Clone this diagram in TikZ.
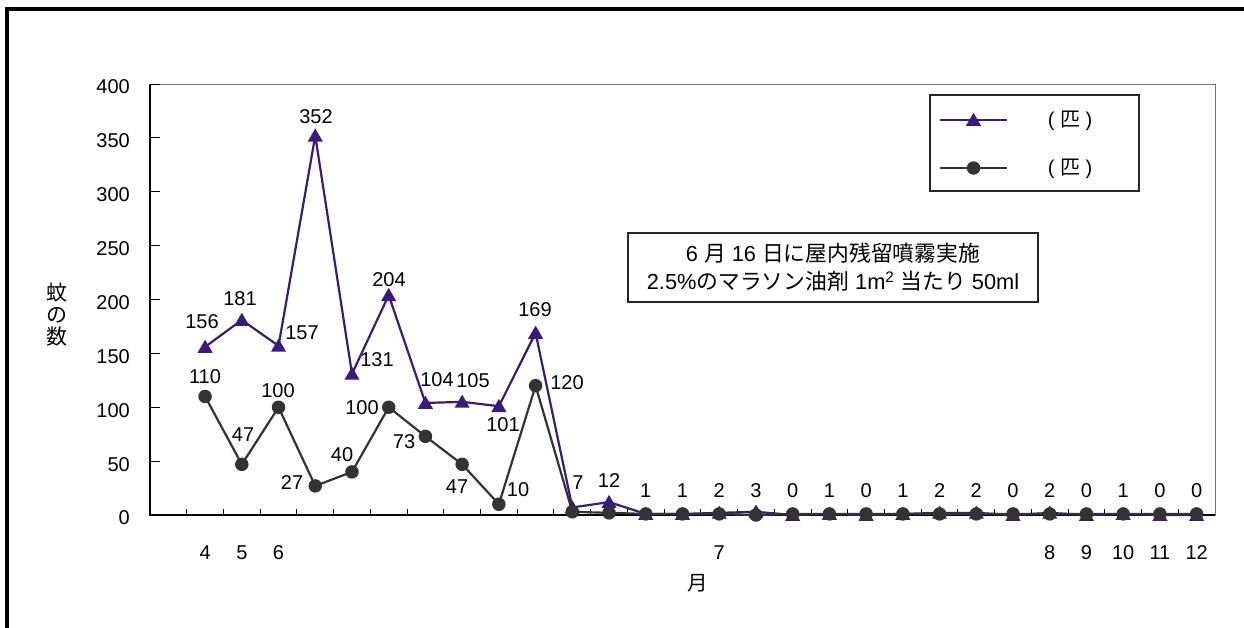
\documentclass[tikz,border=0pt]{standalone}
\usepackage{fontspec}
\setmainfont{Liberation Sans}
\newfontfamily\jp{Noto Sans CJK JP}
\usetikzlibrary{shapes.geometric}
\definecolor{purp}{RGB}{58,26,126}
\definecolor{dark}{RGB}{51,51,51}
\begin{document}
\begin{tikzpicture}[x=1pt,y=-1pt,
  every node/.style={font=\fontsize{20}{24}\selectfont, inner sep=0pt},
  trimark/.style={regular polygon, regular polygon sides=3, minimum size=17.5pt, fill=purp, draw=none, yshift=-1.5pt},
  circmark/.style={circle, minimum size=13.5pt, fill=dark, draw=none},
  purpline/.style={draw=purp, line width=2.2pt, line join=round},
  darkline/.style={draw=dark, line width=2.2pt, line join=round},
  boxstyle/.style={draw=black!85, line width=1.1pt}]
\useasboundingbox (0,0) rectangle (1244,627);
\clip (0,0) rectangle (1244,627);
\fill[white] (0,0) rectangle (1244,627);
% outer frame
\draw[line width=3.5pt] (7,700) -- (7,9) -- (1300,9);
% plot frame
\draw[black!55, line width=1pt] (150,84) rectangle (1215,515);
\draw[black, line width=1.2pt] (150,84) -- (150,515) -- (1215,515);
% y ticks and labels
\foreach \v in {0,50,...,400}{
  \draw[black, line width=1pt] (150,{515-1.0775*\v}) -- (160,{515-1.0775*\v});
  \node[anchor=east] (yl\v) at (130,{518-1.0775*\v}) {\v};
}
% x ticks
\foreach \k in {1,...,28}{
  \draw[black, line width=1pt] ({150+36.724*\k},515) -- ({150+36.724*\k},509);
}
% x labels
\foreach \i/\m in {1/4,2/5,3/6,15/7,24/8,25/9,26/10,27/11,28/12}{
  \node (xl\i) at ({150+36.724*(\i+0.5)},553) {\m};
}
\node[font=\jp\fontsize{20.5}{24}\selectfont] (xtitle) at (698,583) {月};
\node[font=\jp\fontsize{21}{22}\selectfont, align=center] (ytitle) at (57,315) {蚊\\の\\数};
% data
\foreach \v [count=\i] in {156,181,157,352,131,204,104,105,101,169,7,12,1,1,2,3,0,1,0,1,2,2,0,2,0,1,0,0}{
  \coordinate (t\i) at ({150+36.724*(\i+0.5)},{515-1.0775*\v});
}
\foreach \v [count=\i] in {110,47,100,27,40,100,73,47,10,120,3,2,1,1,1,0,1,1,1,1,1,1,1,1,1,1,1,1}{
  \coordinate (c\i) at ({150+36.724*(\i+0.5)},{515-1.0775*\v});
}
\draw[purpline] (t1) \foreach \i in {2,...,28}{ -- (t\i)};
\foreach \i in {1,...,28}{ \node[trimark] (tm\i) at (t\i) {}; }
\draw[darkline] (c1) \foreach \i in {2,...,28}{ -- (c\i)};
\foreach \i in {1,...,28}{ \node[circmark] (cm\i) at (c\i) {}; }
% triangle series labels
\foreach \x/\y/\t [count=\n] in {202/322/156,240/299/181,302/333/157,316/117/352,377/360/131,389/280/204,437/380/104,473/381/105,503/425/101,535/310/169,578/483/7,609/481/12}{
  \node (tl\n) at (\x,\y) {\t};
}
\foreach \t [count=\i from 13] in {1,1,2,3,0,1,0,1,2,2,0,2,0,1,0,0}{
  \node (tlb\i) at ({150+36.724*(\i+0.5)},491) {\t};
}
% circle series labels
\foreach \x/\y/\t [count=\n] in {205/377/110,243/435/47,278/391/100,292/483/27,342/455/40,362/408/100,404/442/73,457/487/47,518/490/10,567/383/120}{
  \node (cl\n) at (\x,\y) {\t};
}
% legend
\node[boxstyle, minimum width=209pt, minimum height=96pt] (legend) at (1034.5,143) {};
\coordinate (la1) at (940,120); \coordinate (lb1) at (1007,120);
\coordinate (la2) at (940,168); \coordinate (lb2) at (1007,168);
\draw[draw=purp, line width=2pt] (la1) -- (lb1);
\node[trimark] (lm1) at (973.5,120) {};
\draw[draw=dark, line width=2pt] (la2) -- (lb2);
\node[circmark] (lm2) at (973.5,168) {};
\node (lt1) at (1070,121) {( {\jp 匹} )};
\node (lt2) at (1070,169) {( {\jp 匹} )};
% note
\node[boxstyle, minimum width=410pt, minimum height=69pt, align=center,
  font=\fontsize{21.8}{28}\selectfont] (note) at (833,267.5)
  {6 {\jp 月} 16 {\jp 日に屋内残留噴霧実施}\\2.5\%{\jp のマラソン油剤} 1m\textsuperscript{2} {\jp 当たり} 50ml};
\end{tikzpicture}
\end{document}
